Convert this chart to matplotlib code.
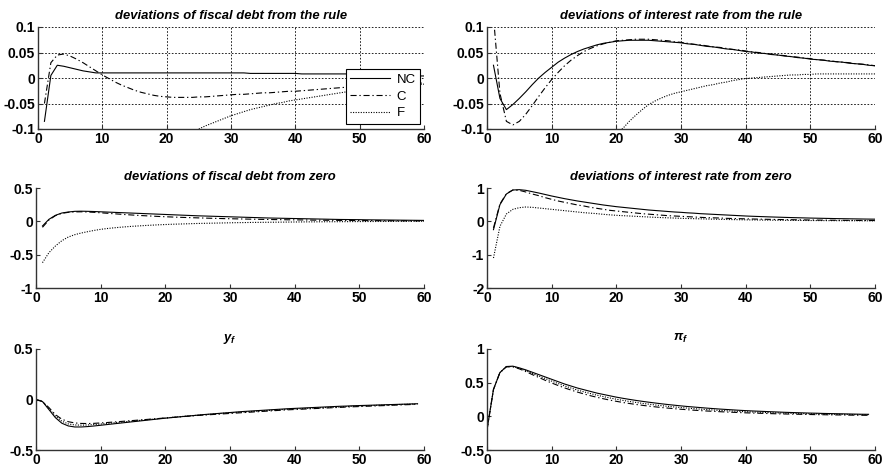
import numpy as np
import matplotlib
matplotlib.use("Agg")
import matplotlib.pyplot as plt
from matplotlib.ticker import FixedLocator, FixedFormatter

plt.rcParams.update({
    "font.family": ["Liberation Sans", "DejaVu Sans"],
    "font.weight": "bold",
    "axes.unicode_minus": False,
    "mathtext.fontset": "custom",
    "mathtext.it": "Liberation Sans:italic:bold",
    "mathtext.rm": "Liberation Sans:bold",
    "mathtext.bf": "Liberation Sans:bold",
})

# ---------------- data ----------------
periods_a = list(range(1, 61))   # panels 1-4
periods_b = list(range(0, 60))   # panels 5-6

series_names = ["NC", "C", "F"]

debt_rule_nc = [-0.085, 0.005, 0.025, 0.023, 0.020, 0.017, 0.014, 0.012, 0.010, 0.010,
                0.010, 0.010, 0.010, 0.010, 0.010, 0.010, 0.010, 0.010, 0.010, 0.010,
                0.010, 0.010, 0.010, 0.010, 0.010, 0.010, 0.010, 0.010, 0.010, 0.010,
                0.010, 0.010, 0.009, 0.009, 0.009, 0.009, 0.009, 0.009, 0.009, 0.009,
                0.008, 0.008, 0.008, 0.008, 0.008, 0.008, 0.008, 0.008, 0.008, 0.008,
                0.007, 0.007, 0.006, 0.006, 0.006, 0.005, 0.005, 0.005, 0.004, 0.004]
debt_rule_c = [-0.050, 0.030, 0.045, 0.047, 0.043, 0.037, 0.030, 0.022, 0.014, 0.006,
               -0.001, -0.008, -0.014, -0.019, -0.024, -0.028, -0.031, -0.034, -0.036, -0.037,
               -0.038, -0.038, -0.038, -0.038, -0.037, -0.037, -0.036, -0.035, -0.034, -0.033,
               -0.032, -0.032, -0.031, -0.030, -0.029, -0.029, -0.028, -0.027, -0.026, -0.026,
               -0.025, -0.024, -0.023, -0.022, -0.021, -0.020, -0.019, -0.018, -0.017, -0.016,
               -0.016, -0.015, -0.014, -0.013, -0.013, -0.012, -0.011, -0.011, -0.010, -0.010]
debt_rule_f = [-0.600, -0.450, -0.380, -0.330, -0.300, -0.280, -0.260, -0.240, -0.225, -0.210,
               -0.200, -0.190, -0.180, -0.170, -0.160, -0.152, -0.145, -0.138, -0.131, -0.125,
               -0.120, -0.115, -0.110, -0.105, -0.100, -0.094, -0.089, -0.084, -0.079, -0.074,
               -0.070, -0.066, -0.062, -0.059, -0.056, -0.053, -0.050, -0.048, -0.045, -0.043,
               -0.041, -0.039, -0.037, -0.035, -0.033, -0.031, -0.029, -0.027, -0.025, -0.024,
               -0.022, -0.021, -0.019, -0.018, -0.017, -0.016, -0.015, -0.014, -0.013, -0.012]

rate_rule_nc = [0.025, -0.040, -0.062, -0.052, -0.040, -0.027, -0.013, 0.000, 0.011, 0.021,
                0.031, 0.039, 0.046, 0.052, 0.057, 0.061, 0.065, 0.068, 0.070, 0.072,
                0.073, 0.074, 0.074, 0.074, 0.074, 0.073, 0.072, 0.071, 0.070, 0.069,
                0.067, 0.066, 0.064, 0.062, 0.061, 0.059, 0.057, 0.056, 0.054, 0.052,
                0.051, 0.049, 0.048, 0.046, 0.045, 0.043, 0.042, 0.040, 0.039, 0.037,
                0.036, 0.035, 0.033, 0.032, 0.031, 0.029, 0.028, 0.027, 0.025, 0.024]
rate_rule_c = [0.120, -0.030, -0.085, -0.092, -0.085, -0.071, -0.054, -0.036, -0.019, -0.003,
               0.011, 0.024, 0.035, 0.044, 0.052, 0.058, 0.063, 0.067, 0.070, 0.073,
               0.074, 0.075, 0.076, 0.076, 0.076, 0.075, 0.074, 0.073, 0.071, 0.070,
               0.068, 0.066, 0.065, 0.063, 0.061, 0.060, 0.058, 0.056, 0.055, 0.053,
               0.051, 0.050, 0.048, 0.047, 0.045, 0.044, 0.042, 0.041, 0.039, 0.038,
               0.036, 0.035, 0.034, 0.032, 0.031, 0.030, 0.028, 0.027, 0.026, 0.024]
rate_rule_f = [-0.900, -0.700, -0.600, -0.520, -0.460, -0.410, -0.370, -0.330, -0.300, -0.270,
               -0.245, -0.220, -0.200, -0.180, -0.165, -0.150, -0.138, -0.126, -0.116, -0.107,
               -0.099, -0.085, -0.073, -0.062, -0.052, -0.045, -0.039, -0.034, -0.030, -0.027,
               -0.024, -0.021, -0.018, -0.015, -0.013, -0.010, -0.008, -0.005, -0.003, -0.001,
               0.000, 0.001, 0.002, 0.003, 0.004, 0.005, 0.006, 0.006, 0.007, 0.007,
               0.008, 0.008, 0.008, 0.008, 0.008, 0.008, 0.008, 0.008, 0.008, 0.008]

debt_zero_nc = [-0.070, 0.030, 0.090, 0.125, 0.140, 0.150, 0.152, 0.150, 0.147, 0.143,
                0.139, 0.135, 0.131, 0.127, 0.123, 0.119, 0.115, 0.111, 0.107, 0.103,
                0.099, 0.095, 0.091, 0.087, 0.083, 0.080, 0.077, 0.074, 0.071, 0.068,
                0.065, 0.062, 0.059, 0.056, 0.053, 0.050, 0.048, 0.046, 0.044, 0.042,
                0.040, 0.038, 0.036, 0.034, 0.032, 0.030, 0.028, 0.027, 0.026, 0.025,
                0.023, 0.022, 0.021, 0.020, 0.019, 0.018, 0.017, 0.016, 0.015, 0.014]
debt_zero_c = [-0.090, 0.020, 0.085, 0.120, 0.135, 0.142, 0.143, 0.140, 0.135, 0.128,
               0.121, 0.114, 0.107, 0.100, 0.094, 0.088, 0.083, 0.078, 0.073, 0.069,
               0.065, 0.061, 0.058, 0.055, 0.052, 0.049, 0.046, 0.044, 0.041, 0.039,
               0.037, 0.035, 0.033, 0.031, 0.029, 0.028, 0.026, 0.025, 0.023, 0.022,
               0.021, 0.020, 0.018, 0.017, 0.016, 0.015, 0.014, 0.014, 0.013, 0.012,
               0.011, 0.011, 0.010, 0.009, 0.009, 0.008, 0.008, 0.007, 0.007, 0.006]
debt_zero_f = [-0.620, -0.470, -0.370, -0.290, -0.235, -0.200, -0.175, -0.155, -0.136, -0.120,
               -0.108, -0.098, -0.089, -0.081, -0.074, -0.068, -0.062, -0.057, -0.052, -0.048,
               -0.044, -0.041, -0.038, -0.035, -0.032, -0.030, -0.028, -0.026, -0.024, -0.022,
               -0.020, -0.019, -0.017, -0.016, -0.015, -0.014, -0.013, -0.012, -0.011, -0.010,
               -0.009, -0.008, -0.008, -0.007, -0.006, -0.006, -0.005, -0.005, -0.004, -0.004,
               -0.003, -0.003, -0.002, -0.002, -0.001, -0.001, -0.001, 0.000, 0.000, 0.000]

rate_zero_nc = [-0.250, 0.500, 0.820, 0.940, 0.950, 0.930, 0.890, 0.850, 0.805, 0.760,
                0.720, 0.680, 0.645, 0.610, 0.580, 0.550, 0.520, 0.490, 0.465, 0.440,
                0.420, 0.400, 0.380, 0.360, 0.340, 0.325, 0.310, 0.295, 0.280, 0.270,
                0.255, 0.245, 0.230, 0.220, 0.210, 0.200, 0.190, 0.180, 0.170, 0.160,
                0.152, 0.145, 0.138, 0.131, 0.125, 0.119, 0.113, 0.108, 0.103, 0.098,
                0.094, 0.090, 0.086, 0.082, 0.079, 0.076, 0.073, 0.070, 0.067, 0.065]
rate_zero_c = [-0.200, 0.520, 0.830, 0.940, 0.930, 0.880, 0.820, 0.770, 0.710, 0.660,
               0.610, 0.570, 0.530, 0.490, 0.460, 0.420, 0.390, 0.360, 0.330, 0.310,
               0.290, 0.270, 0.250, 0.230, 0.215, 0.200, 0.185, 0.170, 0.160, 0.150,
               0.140, 0.130, 0.120, 0.110, 0.105, 0.100, 0.090, 0.085, 0.080, 0.075,
               0.070, 0.066, 0.062, 0.058, 0.055, 0.052, 0.049, 0.046, 0.043, 0.040,
               0.038, 0.036, 0.034, 0.032, 0.030, 0.028, 0.027, 0.026, 0.025, 0.024]
rate_zero_f = [-1.100, -0.150, 0.220, 0.360, 0.410, 0.430, 0.420, 0.400, 0.380, 0.360,
               0.340, 0.320, 0.300, 0.280, 0.260, 0.245, 0.230, 0.210, 0.195, 0.180,
               0.170, 0.160, 0.150, 0.140, 0.130, 0.120, 0.112, 0.105, 0.098, 0.090,
               0.085, 0.080, 0.075, 0.070, 0.065, 0.060, 0.056, 0.052, 0.048, 0.045,
               0.042, 0.040, 0.037, 0.035, 0.033, 0.031, 0.029, 0.027, 0.026, 0.024,
               0.023, 0.022, 0.021, 0.020, 0.019, 0.018, 0.017, 0.016, 0.015, 0.015]

yf_nc = [0.000, -0.020, -0.100, -0.180, -0.235, -0.262, -0.272, -0.272, -0.268, -0.262,
         -0.255, -0.248, -0.241, -0.234, -0.227, -0.220, -0.213, -0.206, -0.199, -0.192,
         -0.185, -0.179, -0.173, -0.167, -0.161, -0.155, -0.149, -0.144, -0.139, -0.134,
         -0.129, -0.124, -0.119, -0.115, -0.111, -0.107, -0.103, -0.099, -0.095, -0.091,
         -0.088, -0.085, -0.082, -0.079, -0.076, -0.073, -0.070, -0.067, -0.065, -0.062,
         -0.060, -0.058, -0.056, -0.054, -0.052, -0.050, -0.048, -0.046, -0.044, -0.042]
yf_c = [0.000, -0.020, -0.080, -0.150, -0.195, -0.220, -0.232, -0.237, -0.238, -0.236,
        -0.232, -0.228, -0.223, -0.218, -0.213, -0.208, -0.203, -0.198, -0.193, -0.188,
        -0.183, -0.178, -0.173, -0.168, -0.163, -0.158, -0.154, -0.150, -0.146, -0.142,
        -0.138, -0.134, -0.130, -0.126, -0.122, -0.118, -0.114, -0.110, -0.106, -0.102,
        -0.099, -0.096, -0.093, -0.090, -0.087, -0.084, -0.081, -0.078, -0.075, -0.072,
        -0.070, -0.067, -0.065, -0.062, -0.060, -0.057, -0.055, -0.052, -0.050, -0.048]
yf_f = [0.000, -0.020, -0.090, -0.165, -0.215, -0.242, -0.252, -0.254, -0.252, -0.248,
        -0.243, -0.237, -0.231, -0.225, -0.219, -0.213, -0.207, -0.201, -0.195, -0.189,
        -0.183, -0.177, -0.171, -0.166, -0.161, -0.156, -0.151, -0.146, -0.141, -0.136,
        -0.132, -0.128, -0.124, -0.120, -0.116, -0.112, -0.108, -0.104, -0.100, -0.097,
        -0.094, -0.091, -0.088, -0.085, -0.082, -0.079, -0.076, -0.073, -0.070, -0.067,
        -0.065, -0.062, -0.060, -0.057, -0.055, -0.052, -0.050, -0.048, -0.046, -0.044]

pif_nc = [-0.200, 0.400, 0.650, 0.740, 0.745, 0.720, 0.690, 0.655, 0.620, 0.585,
          0.550, 0.515, 0.480, 0.450, 0.420, 0.395, 0.370, 0.345, 0.325, 0.305,
          0.285, 0.268, 0.252, 0.237, 0.223, 0.210, 0.198, 0.186, 0.175, 0.165,
          0.155, 0.146, 0.138, 0.130, 0.122, 0.115, 0.108, 0.102, 0.096, 0.090,
          0.085, 0.080, 0.076, 0.072, 0.068, 0.064, 0.060, 0.057, 0.054, 0.051,
          0.048, 0.046, 0.043, 0.041, 0.039, 0.037, 0.035, 0.033, 0.031, 0.030]
pif_c = [-0.200, 0.400, 0.650, 0.735, 0.735, 0.705, 0.665, 0.620, 0.578, 0.535,
         0.495, 0.458, 0.422, 0.390, 0.360, 0.332, 0.306, 0.283, 0.261, 0.241,
         0.223, 0.206, 0.191, 0.177, 0.164, 0.152, 0.141, 0.131, 0.122, 0.113,
         0.105, 0.098, 0.091, 0.085, 0.079, 0.074, 0.069, 0.064, 0.060, 0.056,
         0.052, 0.049, 0.046, 0.043, 0.040, 0.037, 0.035, 0.033, 0.031, 0.029,
         0.027, 0.025, 0.024, 0.022, 0.021, 0.020, 0.018, 0.017, 0.016, 0.015]
pif_f = [-0.200, 0.400, 0.650, 0.738, 0.740, 0.712, 0.677, 0.638, 0.600, 0.561,
         0.523, 0.487, 0.452, 0.420, 0.390, 0.363, 0.338, 0.314, 0.293, 0.273,
         0.254, 0.237, 0.221, 0.207, 0.193, 0.181, 0.169, 0.158, 0.148, 0.139,
         0.130, 0.122, 0.114, 0.107, 0.100, 0.094, 0.088, 0.083, 0.078, 0.073,
         0.069, 0.065, 0.061, 0.057, 0.054, 0.051, 0.048, 0.045, 0.043, 0.040,
         0.038, 0.036, 0.034, 0.032, 0.030, 0.029, 0.027, 0.026, 0.024, 0.023]

titles = ["deviations of fiscal debt from the rule",
          "deviations of interest rate from the rule",
          "deviations of fiscal debt from zero",
          "deviations of interest rate from zero",
          r"$y_f$",
          r"$\pi_f$"]

xticks = [0, 10, 20, 30, 40, 50, 60]
xtick_labels = ["0", "10", "20", "30", "40", "50", "60"]
yticks_rule = [-0.1, -0.05, 0, 0.05, 0.1]
ytick_labels_rule = ["-0.1", "-0.05", "0", "0.05", "0.1"]
yticks_debt0 = [-1, -0.5, 0, 0.5]
ytick_labels_debt0 = ["-1", "-0.5", "0", "0.5"]
yticks_rate0 = [-2, -1, 0, 1]
ytick_labels_rate0 = ["-2", "-1", "0", "1"]
yticks_yf = [-0.5, 0, 0.5]
ytick_labels_yf = ["-0.5", "0", "0.5"]
yticks_pif = [-0.5, 0, 0.5, 1]
ytick_labels_pif = ["-0.5", "0", "0.5", "1"]

# ---------------- layout ----------------
W, H = 885, 470
fig = plt.figure(figsize=(W / 100, H / 100), dpi=100, facecolor="white")

def rect(x0, y0, x1, y1):
    return [x0 / W, 1 - y1 / H, (x1 - x0) / W, (y1 - y0) / H]

styles = [dict(ls="-"),
          dict(ls=(0, (5.5, 2.5, 1.2, 2.5))),
          dict(ls=(0, (1.0, 1.3)))]

panels = [
    dict(rect=rect(38, 27, 424, 129), x=periods_a,
         ys=[debt_rule_nc, debt_rule_c, debt_rule_f], ylim=(-0.1, 0.1),
         yt=yticks_rule, ytl=ytick_labels_rule, grid=True, legend=True),
    dict(rect=rect(487, 27, 875, 129), x=periods_a,
         ys=[rate_rule_nc, rate_rule_c, rate_rule_f], ylim=(-0.1, 0.1),
         yt=yticks_rule, ytl=ytick_labels_rule, grid=True, legend=False),
    dict(rect=rect(36, 188, 424, 288), x=periods_a,
         ys=[debt_zero_nc, debt_zero_c, debt_zero_f], ylim=(-1, 0.5),
         yt=yticks_debt0, ytl=ytick_labels_debt0, grid=False, legend=False),
    dict(rect=rect(487, 188, 875, 288), x=periods_a,
         ys=[rate_zero_nc, rate_zero_c, rate_zero_f], ylim=(-2, 1),
         yt=yticks_rate0, ytl=ytick_labels_rate0, grid=False, legend=False),
    dict(rect=rect(36, 349, 424, 450), x=periods_b,
         ys=[yf_nc, yf_c, yf_f], ylim=(-0.5, 0.5),
         yt=yticks_yf, ytl=ytick_labels_yf, grid=False, legend=False),
    dict(rect=rect(487, 349, 875, 450), x=periods_b,
         ys=[pif_nc, pif_c, pif_f], ylim=(-0.5, 1),
         yt=yticks_pif, ytl=ytick_labels_pif, grid=False, legend=False),
]

for p, title in zip(panels, titles):
    ax = fig.add_axes(p["rect"])
    for y, st, name in zip(p["ys"], styles, series_names):
        ax.plot(p["x"], y, color="black", lw=0.8, label=name, **st)
    ax.set_xlim(0, 60)
    ax.set_ylim(*p["ylim"])
    ax.xaxis.set_major_locator(FixedLocator(xticks))
    ax.xaxis.set_major_formatter(FixedFormatter(xtick_labels))
    ax.yaxis.set_major_locator(FixedLocator(p["yt"]))
    ax.yaxis.set_major_formatter(FixedFormatter(p["ytl"]))
    for s in ["top", "right"]:
        ax.spines[s].set_visible(False)
    for s in ["left", "bottom"]:
        ax.spines[s].set_color("#333333")
        ax.spines[s].set_linewidth(1.0)
    ax.tick_params(direction="in", length=3, width=0.8, color="#333333",
                   labelsize=10, pad=2)
    for lab in ax.get_xticklabels() + ax.get_yticklabels():
        lab.set_fontweight("bold")
    if p["grid"]:
        ax.grid(True, color="black", lw=0.6, ls=(0, (2, 2)))
    ax.set_title(title, fontsize=9.4, fontweight="bold", fontstyle="italic", pad=6)
    if p["legend"]:
        leg = ax.legend(loc="upper left", bbox_to_anchor=(0.797, 0.59),
                        prop={"weight": "normal", "size": 9.5}, fancybox=False,
                        framealpha=1, edgecolor="black", handlelength=3.0,
                        handletextpad=0.5, labelspacing=0.35, borderpad=0.35,
                        borderaxespad=0)
        leg.get_frame().set_linewidth(0.8)

fig.savefig("out.png", dpi=100, facecolor="white")
